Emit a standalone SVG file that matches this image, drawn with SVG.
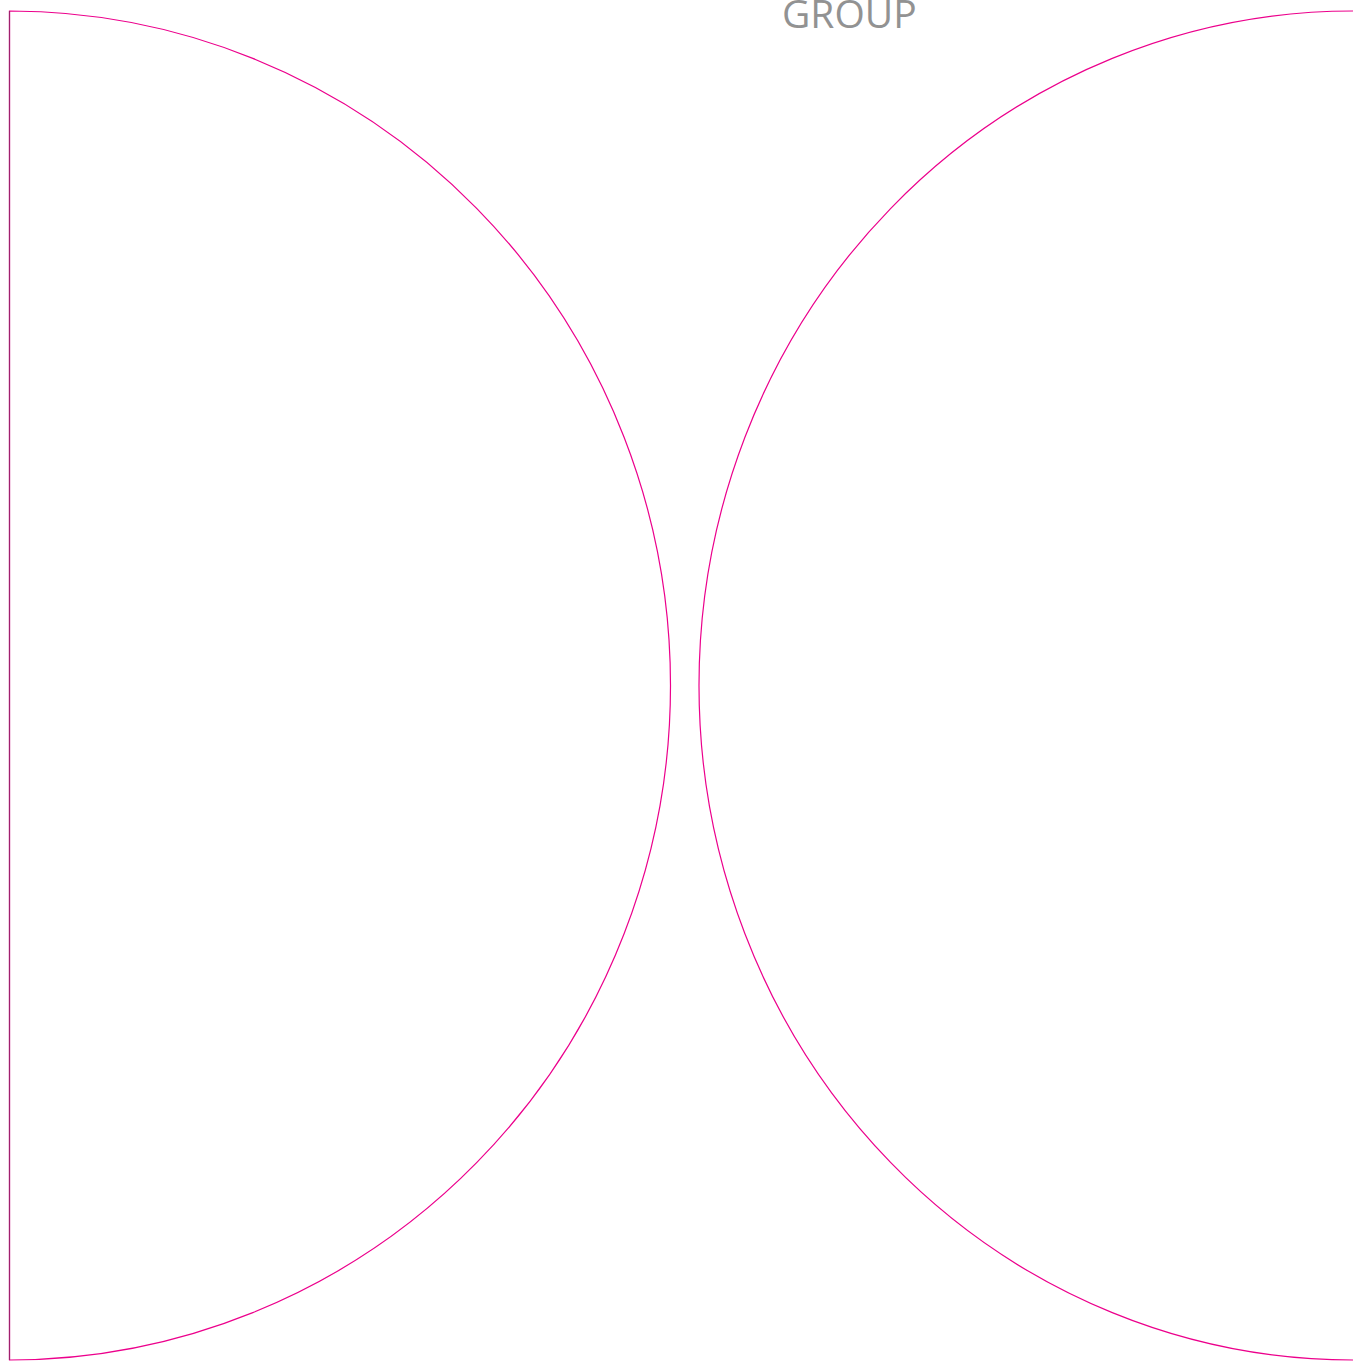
<svg xmlns="http://www.w3.org/2000/svg" width="1353" height="1361" viewBox="0 0 1353 1361">
<style>
.shape{fill:#ffffff;stroke:#ec008c;stroke-width:1.2}
.label{font-family:"Open Sans","Liberation Sans",sans-serif;font-size:39px;fill:#929292}
</style>
<rect width="1353" height="1361" fill="#ffffff"/>
<g id="left-half">
<path class="shape" d="M9.5,11 A661,674.5 0 0 1 9.5,1360 Z"/>
<line x1="9.5" y1="11" x2="9.5" y2="1360" stroke="#a0206e" stroke-width="1.2"/>
</g>
<g id="right-half">
<path class="shape" d="M1353,11 A654,674.5 0 0 0 1353,1360"/>
</g>
<g id="title">
<text class="label" x="782" y="28">GROUP</text>
</g>
<g id="connectors"></g>
</svg>
